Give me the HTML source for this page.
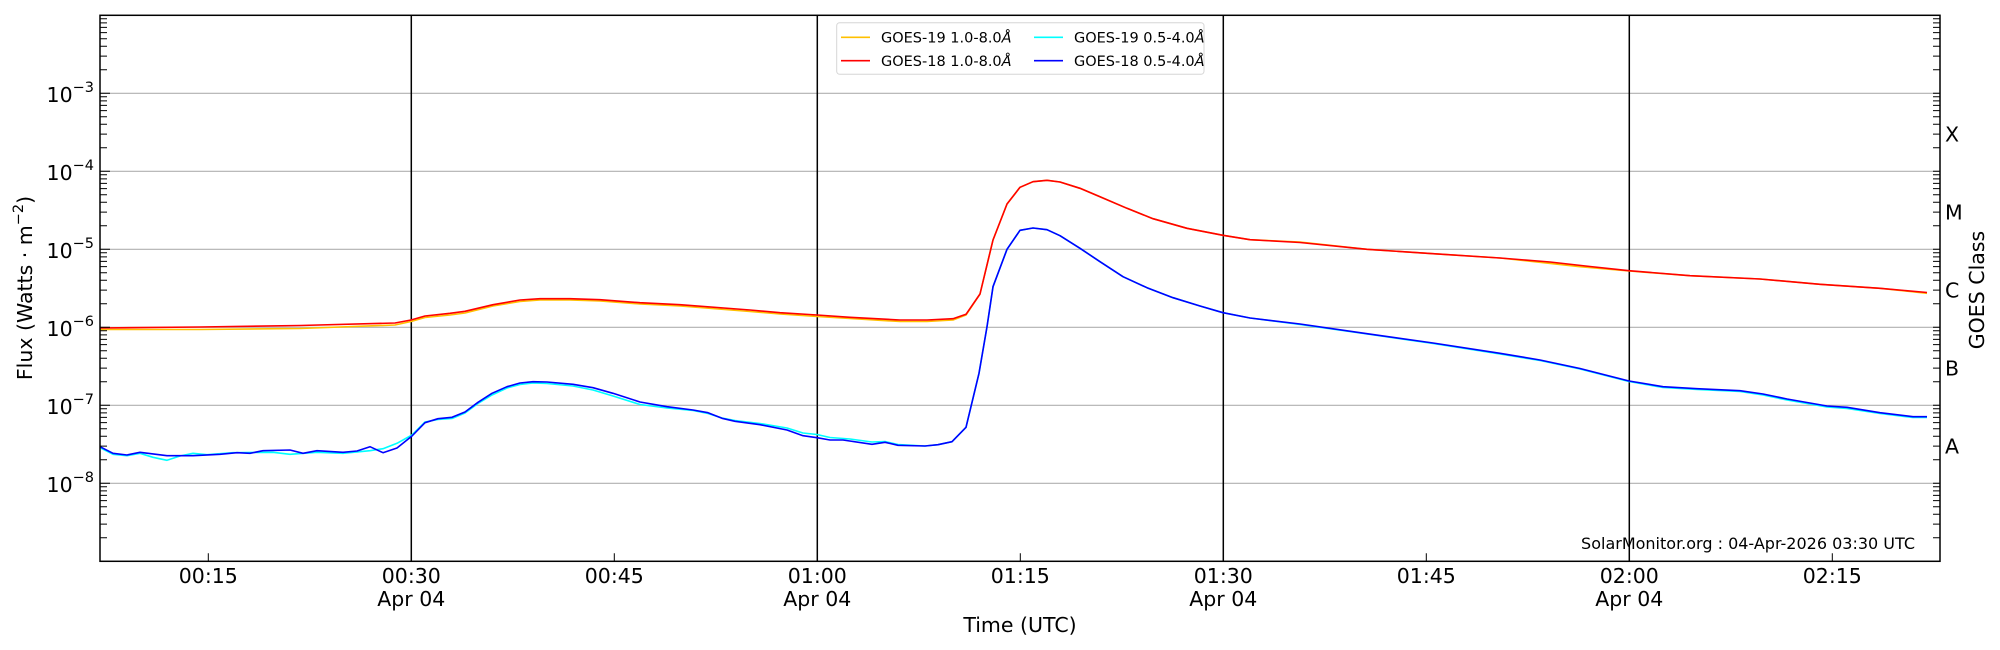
<!DOCTYPE html>
<html><head><meta charset="utf-8">
<style>
html,body{margin:0;padding:0;background:#fff;}
svg{display:block;font-family:"DejaVu Sans","Liberation Sans",sans-serif;}
</style></head>
<body>
<svg width="2000" height="650" viewBox="0 0 2000 650" xmlns="http://www.w3.org/2000/svg">
<rect width="2000" height="650" fill="#fff"/>
<g stroke="#b0b0b0" stroke-width="1.2">
<line x1="100" y1="93.3" x2="1940" y2="93.3"/>
<line x1="100" y1="171.3" x2="1940" y2="171.3"/>
<line x1="100" y1="249.3" x2="1940" y2="249.3"/>
<line x1="100" y1="327.3" x2="1940" y2="327.3"/>
<line x1="100" y1="405.3" x2="1940" y2="405.3"/>
<line x1="100" y1="483.3" x2="1940" y2="483.3"/>
</g>
<g stroke="#000" stroke-width="1.5">
<line x1="411.3" y1="15.3" x2="411.3" y2="561.3"/>
<line x1="817.3" y1="15.3" x2="817.3" y2="561.3"/>
<line x1="1223.3" y1="15.3" x2="1223.3" y2="561.3"/>
<line x1="1629.3" y1="15.3" x2="1629.3" y2="561.3"/>
</g>
<g fill="none" stroke-width="1.6" stroke-linejoin="round">
<polyline stroke="#ffc000" points="100,329.5 200,329.5 300,328.5 395,325 411,321.5 425,317.5 450,315 465,313 493,306 520,301.5 540,300 570,300 600,301 640,304 680,306 750,311.5 780,314 817,316.5 850,318.5 900,321.5 927,321.5 953,320 966,315 980,294 993,240 1007,204 1020,187.3 1033,181.7 1047,180.3 1060,182 1080,188.3 1100,196.7 1127,208.3 1153,218.7 1187,228.3 1223,235.3 1250,239.7 1300,242 1367,249.3 1433,253.7 1500,258 1580,266.7 1629,271 1690,275.7 1760,279 1820,284.3 1880,288.3 1927,293.3"/>
<polyline stroke="#ff0000" points="100,328 200,327 300,325.5 395,323 411,320 425,316 450,313.3 465,311.3 493,304.7 520,300 540,298.7 570,298.7 600,299.7 640,302.7 680,304.7 750,310 780,312.7 817,315 850,317.3 900,320 927,320 953,318.7 966,314.3 980,294 993,240 1007,204 1020,187.3 1033,181.7 1047,180.3 1060,182 1080,188.3 1100,196.7 1127,208.3 1153,218.7 1187,228.3 1223,235.3 1250,239.7 1300,242.5 1367,249.3 1433,253.7 1500,258 1550,262 1590,266.5 1629,270.7 1690,275.7 1760,279 1820,284.3 1880,288.3 1927,292.5"/>
<polyline stroke="#00ffff" points="100,447.7 113,454.3 127,455.7 140,453.3 153,457.3 167,460.3 180,456 193,453.3 207,454.7 233,452.7 273,452.3 290,454.3 317,452.3 343,453.3 370,450.7 383,448.7 397,443.3 412,435 425,422 438,419.5 452,418.5 465,413 478,403.5 492,395 507,388 520,384.5 533,383 547,383.5 573,386 593,390 613,396 640,404.5 667,408 693,410.5 708,413.5 722,418 735,420.5 760,423.5 787,428 803,433 817,434.5 830,437.5 850,439 872,442 885,441.5 898,444.5 925,446 938,444.7 952,441.7 966,427.3 979,373.3 987,326.7 993,286.7 1007,249.3 1020,230.3 1033,228 1047,229.7 1060,235.7 1080,248.3 1100,261.7 1123,276.7 1147,287.7 1173,297.7 1200,306 1223,312.7 1250,318 1300,324.5 1367,334 1433,343.5 1500,354 1540,360.5 1580,369 1629,381.5 1663,387.5 1697,389.5 1740,391.5 1763,395 1787,400 1827,407 1847,408.5 1880,413.5 1913,417.5 1927,417.5"/>
<polyline stroke="#0000ff" points="100,446.7 113,453.3 127,455 140,452.3 167,455.7 193,455.7 220,454.3 237,452.7 250,453.3 263,450.7 290,450 303,453.3 317,450.7 343,452.3 357,451 370,446.7 383,452.7 397,448 412,436 425,422.7 438,418.7 452,417.3 465,412 478,402.3 492,393.3 507,386.7 520,383 533,381.7 547,382 573,384.3 593,387.7 613,393.3 640,402 667,406.7 693,410 708,412.7 722,418.3 735,421.3 760,424.7 787,430 803,435.7 817,437.7 830,440 843,440 872,444.3 885,442.3 898,445.3 925,446 938,444.7 952,441.7 966,427.3 979,373.3 987,326.7 993,286.7 1007,249.3 1020,230.3 1033,228 1047,229.7 1060,235.7 1080,248.3 1100,261.7 1123,276.7 1147,287.7 1173,297.7 1200,306 1223,312.7 1250,318 1300,324 1367,333.7 1433,343 1500,353.3 1540,360 1580,368.5 1629,381 1663,386.7 1697,388.7 1740,390.7 1763,394 1787,399 1827,406 1847,407.3 1880,412.7 1913,416.7 1927,416.7"/>
</g>
<rect x="100" y="15.3" width="1840" height="546" fill="none" stroke="#000" stroke-width="1.5"/>
<g stroke="#000" stroke-width="1">
<path d="M100 93.3h10M100 171.3h10M100 249.3h10M100 327.3h10M100 405.3h10M100 483.3h10"/>
<path d="M100 537.8h7M100 524.1h7M100 514.3h7M100 506.8h7M100 500.6h7M100 495.4h7M100 490.9h7M100 486.8h7
M100 459.8h7M100 446.1h7M100 436.3h7M100 428.8h7M100 422.6h7M100 417.4h7M100 412.9h7M100 408.8h7
M100 381.8h7M100 368.1h7M100 358.3h7M100 350.8h7M100 344.6h7M100 339.4h7M100 334.9h7M100 330.8h7
M100 303.8h7M100 290.1h7M100 280.3h7M100 272.8h7M100 266.6h7M100 261.4h7M100 256.9h7M100 252.8h7
M100 225.8h7M100 212.1h7M100 202.3h7M100 194.8h7M100 188.6h7M100 183.4h7M100 178.9h7M100 174.8h7
M100 147.8h7M100 134.1h7M100 124.3h7M100 116.8h7M100 110.6h7M100 105.4h7M100 100.9h7M100 96.8h7
M100 69.8h7M100 56.1h7M100 46.3h7M100 38.8h7M100 32.6h7M100 27.4h7M100 22.9h7M100 18.8h7"/>
<path d="M1940 93.3h-7M1940 171.3h-7M1940 249.3h-7M1940 327.3h-7M1940 405.3h-7M1940 483.3h-7
M1940 537.8h-7M1940 524.1h-7M1940 514.3h-7M1940 506.8h-7M1940 500.6h-7M1940 495.4h-7M1940 490.9h-7M1940 486.8h-7
M1940 459.8h-7M1940 446.1h-7M1940 436.3h-7M1940 428.8h-7M1940 422.6h-7M1940 417.4h-7M1940 412.9h-7M1940 408.8h-7
M1940 381.8h-7M1940 368.1h-7M1940 358.3h-7M1940 350.8h-7M1940 344.6h-7M1940 339.4h-7M1940 334.9h-7M1940 330.8h-7
M1940 303.8h-7M1940 290.1h-7M1940 280.3h-7M1940 272.8h-7M1940 266.6h-7M1940 261.4h-7M1940 256.9h-7M1940 252.8h-7
M1940 225.8h-7M1940 212.1h-7M1940 202.3h-7M1940 194.8h-7M1940 188.6h-7M1940 183.4h-7M1940 178.9h-7M1940 174.8h-7
M1940 147.8h-7M1940 134.1h-7M1940 124.3h-7M1940 116.8h-7M1940 110.6h-7M1940 105.4h-7M1940 100.9h-7M1940 96.8h-7
M1940 69.8h-7M1940 56.1h-7M1940 46.3h-7M1940 38.8h-7M1940 32.6h-7M1940 27.4h-7M1940 22.9h-7M1940 18.8h-7"/>
<path d="M208.3 561.3v-8M614.3 561.3v-8M1020.3 561.3v-8M1426.3 561.3v-8M1832.3 561.3v-8"/>
</g>
<g font-size="20.5" fill="#000" text-anchor="end">
<text x="94" y="102">10<tspan font-size="14.5" dy="-10">−3</tspan></text>
<text x="94" y="180">10<tspan font-size="14.5" dy="-10">−4</tspan></text>
<text x="94" y="258">10<tspan font-size="14.5" dy="-10">−5</tspan></text>
<text x="94" y="336">10<tspan font-size="14.5" dy="-10">−6</tspan></text>
<text x="94" y="414">10<tspan font-size="14.5" dy="-10">−7</tspan></text>
<text x="94" y="492">10<tspan font-size="14.5" dy="-10">−8</tspan></text>
</g>
<g font-size="20.5" fill="#000">
<text x="1945" y="141.5">X</text>
<text x="1945" y="219.5">M</text>
<text x="1945" y="297.5">C</text>
<text x="1945" y="375.5">B</text>
<text x="1945" y="453.5">A</text>
</g>
<text transform="translate(1984,290) rotate(-90)" font-size="20.5" text-anchor="middle">GOES Class</text>
<text transform="translate(32,288) rotate(-90)" font-size="20.5" text-anchor="middle">Flux (Watts · m<tspan font-size="14.5" dy="-9">−2</tspan><tspan dy="9">)</tspan></text>
<g font-size="20.5" text-anchor="middle">
<text x="208.3" y="583">00:15</text>
<text x="411.3" y="583">00:30</text><text x="411.3" y="606">Apr 04</text>
<text x="614.3" y="583">00:45</text>
<text x="817.3" y="583">01:00</text><text x="817.3" y="606">Apr 04</text>
<text x="1020.3" y="583">01:15</text>
<text x="1223.3" y="583">01:30</text><text x="1223.3" y="606">Apr 04</text>
<text x="1426.3" y="583">01:45</text>
<text x="1629.3" y="583">02:00</text><text x="1629.3" y="606">Apr 04</text>
<text x="1832.3" y="583">02:15</text>
<text x="1020" y="632">Time (UTC)</text>
</g>
<text x="1915" y="549" font-size="16" text-anchor="end">SolarMonitor.org : 04-Apr-2026 03:30 UTC</text>
<rect x="836.7" y="22.7" width="367.3" height="51.6" rx="3" fill="#fff" fill-opacity="0.8" stroke="#d6d6d6" stroke-width="1"/>
<g stroke-width="1.6">
<line x1="841" y1="37.3" x2="870" y2="37.3" stroke="#ffc000"/>
<line x1="841" y1="60.7" x2="870" y2="60.7" stroke="#ff0000"/>
<line x1="1034" y1="37.3" x2="1063" y2="37.3" stroke="#00ffff"/>
<line x1="1034" y1="60.7" x2="1063" y2="60.7" stroke="#0000ff"/>
</g>
<g font-size="14.5">
<text x="881" y="42.5">GOES-19 1.0-8.0<tspan font-style="italic">Å</tspan></text>
<text x="881" y="66">GOES-18 1.0-8.0<tspan font-style="italic">Å</tspan></text>
<text x="1074" y="42.5">GOES-19 0.5-4.0<tspan font-style="italic">Å</tspan></text>
<text x="1074" y="66">GOES-18 0.5-4.0<tspan font-style="italic">Å</tspan></text>
</g>
</svg>
</body></html>
